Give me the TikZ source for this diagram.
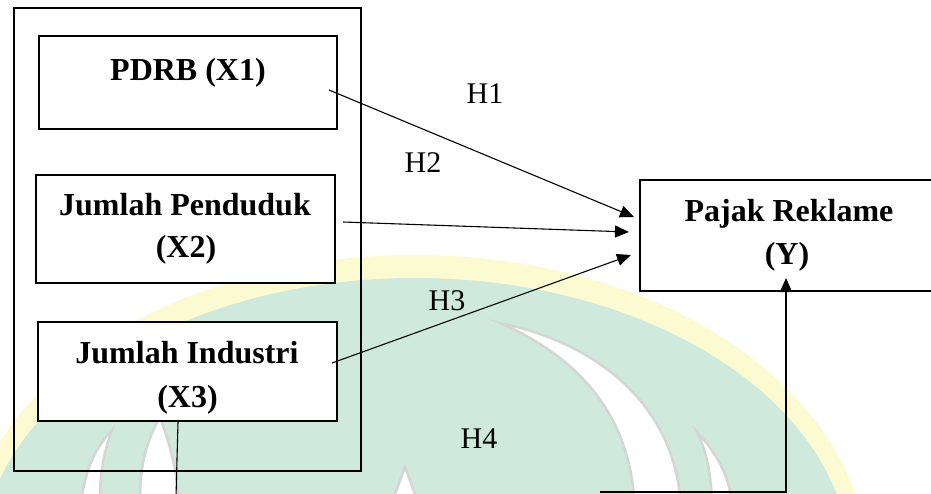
\documentclass[tikz,border=0pt]{standalone}
\usepackage{fontspec}
\setmainfont{Liberation Serif}
\usetikzlibrary{arrows.meta,calc}
\definecolor{wmgreen}{RGB}{207,234,220}
\definecolor{wmyellow}{RGB}{252,250,208}
\definecolor{wmgray}{RGB}{212,214,213}
\tikzset{
  vbox/.style={draw, line width=2pt, fill=white, inner sep=0pt},
  framebox/.style={draw, line width=2pt, inner sep=0pt},
  btxt/.style={font=\fontsize{32}{38}\selectfont\bfseries, inner sep=0pt, anchor=base},
  htxt/.style={font=\fontsize{30}{36}\selectfont, inner sep=0pt, anchor=base},
  conn/.style={line width=1.1pt},
  arr/.style={conn, -{Triangle[length=14pt,width=12pt]}},
  crescent/.style={fill=white, draw=wmgray, line width=2.5pt}
}
\begin{document}
\begin{tikzpicture}[x=1pt,y=-1pt]
\useasboundingbox (0,0) rectangle (931,493);
\clip (0,0) rectangle (931,493);
\fill[white] (0,0) rectangle (931,493);
% watermark
\fill[wmyellow] (415,565) ellipse [x radius=452pt, y radius=310pt];
\fill[wmgreen] (415,565) ellipse [x radius=435pt, y radius=287pt];
\path[crescent] (500,323) .. controls (605,345) and (672,410) .. (680,497) -- (634,497) .. controls (628,420) and (585,360) .. (500,323) -- cycle;
\path[crescent] (697,432) .. controls (716,452) and (728,475) .. (731,497) -- (712,497) .. controls (710,470) and (706,450) .. (697,432) -- cycle;
\path[crescent] (405,467) -- (416,497) -- (394,497) -- cycle;
\path[crescent] (140,497) .. controls (140,465) and (147,440) .. (160,417) .. controls (170,445) and (177,470) .. (178,497) -- cycle;
\path[crescent] (82,497) .. controls (86,468) and (96,447) .. (112,430) .. controls (104,452) and (100,472) .. (100,497) -- cycle;
% boxes
\node[framebox, minimum width=347pt, minimum height=463pt] (outer) at (187.5,239.5) {};
\node[vbox, minimum width=298.5pt, minimum height=93pt] (x1) at (187.75,82.5) {};
\node[vbox, minimum width=299pt, minimum height=108pt] (x2) at (185.5,229) {};
\node[vbox, minimum width=299pt, minimum height=99pt] (x3) at (187.5,371.5) {};
\node[vbox, minimum width=294pt, minimum height=111pt] (y) at (787,235.5) {};
% texts
\node[btxt] (t1) at (188,80) {PDRB (X1)};
\node[btxt] (t2a) at (185,215) {Jumlah Penduduk};
\node[btxt] (t2b) at (186,257) {(X2)};
\node[btxt] (t3a) at (187,363) {Jumlah Industri};
\node[btxt] (t3b) at (187.5,407) {(X3)};
\node[btxt] (ty1) at (789,221) {Pajak Reklame};
\node[btxt] (ty2) at (787,264) {(Y)};
\node[htxt] (h1) at (485,103) {H1};
\node[htxt] (h2) at (423,172) {H2};
\node[htxt] (h3) at (447,310) {H3};
\node[htxt] (h4) at (479,448) {H4};
% connectors
\draw[arr] ($(x1.east)+(-9,7.5)$) -- ($(y.west)+(-5,-18.5)$);
\draw[arr] ($(x2.east)+(7,-7)$) -- ($(y.west)+(-10,-3.5)$);
\draw[arr] ($(x3.east)+(-6,-8.5)$) -- ($(y.west)+(-8,19.5)$);
\coordinate (c1) at (176,497);
\coordinate (c2) at (600,492);
\coordinate (c3) at (786,492);
\draw[conn] ($(x3.south)+(-9.5,0)$) -- (c1);
\draw[arr] (c2) -- (c3) -- ($(y.south)+(-1,-14)$);
\end{tikzpicture}
\end{document}
